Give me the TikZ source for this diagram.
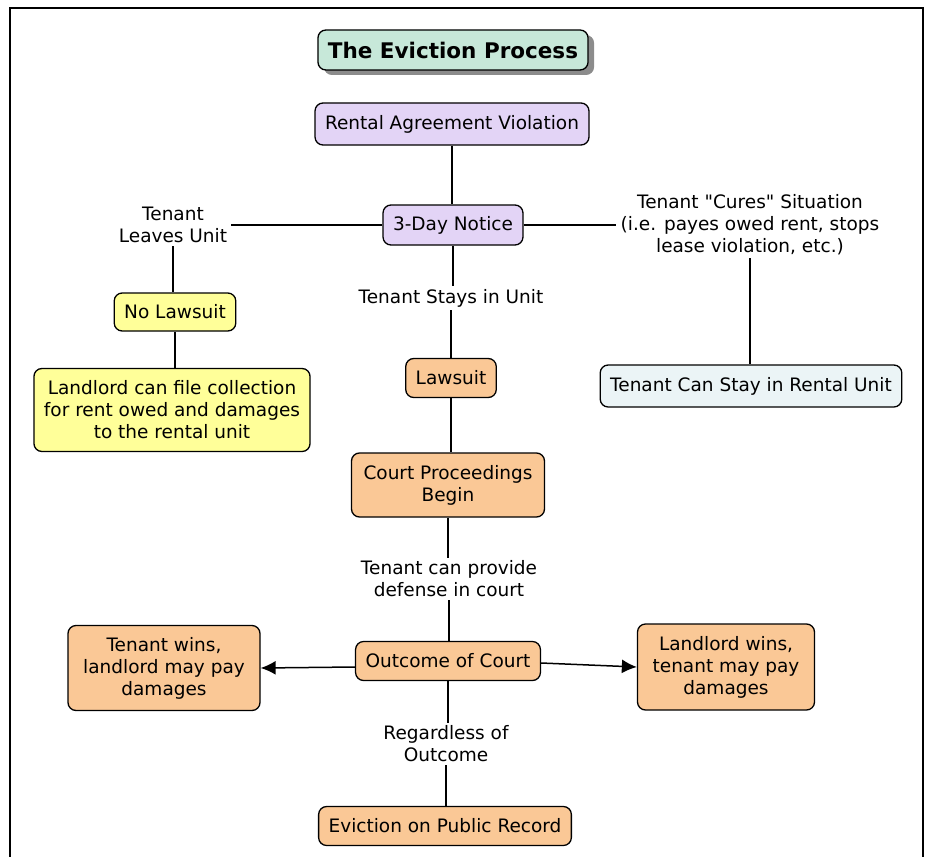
\documentclass[tikz,border=0pt]{standalone}
\usepackage{fontspec}
\setmainfont{DejaVu Sans}
\usepackage{tikz}
\usetikzlibrary{arrows.meta}
\usetikzlibrary{shadows}
\definecolor{titlegreen}{HTML}{C7E8D9}
\definecolor{violetbox}{HTML}{E3D4F6}
\definecolor{yellowbox}{HTML}{FFFF99}
\definecolor{orangebox}{HTML}{FAC896}
\definecolor{bluebox}{HTML}{EBF4F6}
\newcommand{\stepfont}{\fontsize{18.5}{22}\selectfont}

\begin{document}
\begin{tikzpicture}[x=1pt,y=-1pt,
    box/.style={draw, line width=1.3pt, rounded corners=8pt, align=center,
      inner xsep=10pt, inner ysep=2pt, minimum height=40pt, font=\stepfont},
    lbl/.style={align=center, inner xsep=4pt, inner ysep=3pt, font=\stepfont},
    ln/.style={line width=1.5pt},
    arr/.style={line width=1.5pt, -{Latex[length=15pt,width=14pt]}}]
                \useasboundingbox (0,0) rectangle (936,856);
                \draw [line width=2.5pt] (10,858) -- (10,8) -- (923,8) -- (923,858);
                \node [box, fill=titlegreen, font=\fontsize{21.5}{25}\bfseries,
                  drop shadow={shadow xshift=6pt, shadow yshift=-5pt, fill=black!45, opacity=1}]
                  (title) at (453,50) {The Eviction Process};
                \node [box, fill=violetbox, minimum height=42pt] (rent) at (452,124) {Rental Agreement Violation};
                \node [box, fill=violetbox] (notice) at (453,225) {3-Day Notice};
                \node [lbl] (leaves) at (173,225) {Tenant\\Leaves Unit};
                \node [lbl] (cures) at (750,225) {Tenant \textquotedbl Cures\textquotedbl\ Situation\\(i.e. payes owed rent, stops\\lease violation, etc.)};
                \node [lbl] (stays) at (451,298) {Tenant Stays in Unit};
                \node [box, fill=yellowbox, minimum height=38pt] (nolaw) at (175,312) {No Lawsuit};
                \node [box, fill=yellowbox, minimum height=83pt] (collect) at (172,410) {Landlord can file collection\\for rent owed and damages\\to the rental unit};
                \node [box, fill=bluebox, minimum height=42pt] (canstay) at (751,386) {Tenant Can Stay in Rental Unit};
                \node [box, fill=orangebox, minimum height=39pt] (lawsuit) at (451,378) {Lawsuit};
                \node [box, fill=orangebox, minimum height=64pt, minimum width=193pt] (court) at (448,485) {Court Proceedings\\Begin};
                \node [lbl] (defense) at (449,579) {Tenant can provide\\defense in court};
                \node [box, fill=orangebox, minimum height=39pt] (outcome) at (448,661) {Outcome of Court};
                \node [box, fill=orangebox, minimum height=85pt, minimum width=192pt] (twins) at (164,668) {Tenant wins,\\landlord may pay\\damages};
                \node [box, fill=orangebox, minimum height=86pt, minimum width=177pt] (lwins) at (726,667) {Landlord wins,\\tenant may pay\\damages};
                \node [lbl] (regard) at (446,744) {Regardless of\\Outcome};
                \node [box, fill=orangebox, minimum height=39pt] (record) at (445,826) {Eviction on Public Record};
                \draw [ln] (rent.south) -- (rent.south |- notice.north);
                \draw [ln] (notice) -- (leaves);
                \draw [ln] (leaves.south) -- (leaves.south |- nolaw.north);
                \draw [ln] (nolaw.south) -- (nolaw.south |- collect.north);
                \draw [ln] (notice) -- (cures);
                \draw [ln] (cures.south) -- (cures.south |- canstay.north);
                \draw [ln] (notice.south) -- (notice.south |- stays.north);
                \draw [ln] (stays.south) -- (stays.south |- lawsuit.north);
                \draw [ln] (lawsuit.south) -- (lawsuit.south |- court.north);
                \draw [ln] (court.south) -- (court.south |- defense.north);
                \draw [ln] (defense.south) -- (defense.south |- outcome.north);
                \draw [arr] ([yshift=-6pt]outcome.west) -- (twins.east);
                \draw [arr] ([yshift=-2pt]outcome.east) -- (lwins.west);
                \draw [ln] (outcome.south) -- (outcome.south |- regard.north);
                \draw [ln] (regard.south) -- (regard.south |- record.north);
              \end{tikzpicture}
\end{document}
